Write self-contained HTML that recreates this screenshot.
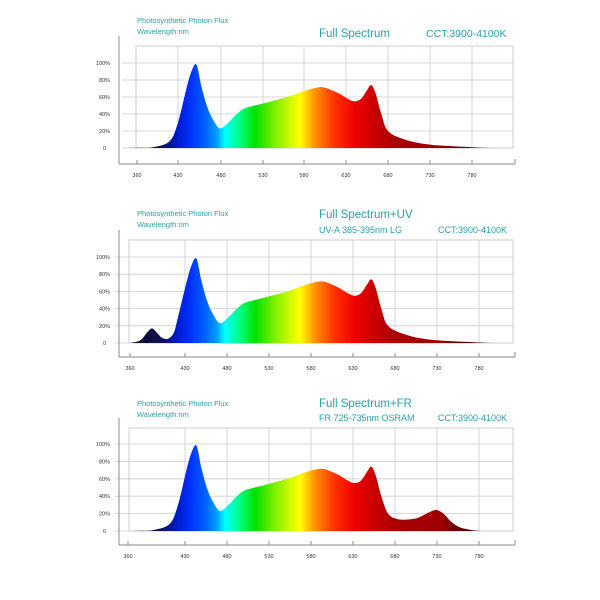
<!DOCTYPE html>
<html><head><meta charset="utf-8"><style>
html,body{margin:0;padding:0;background:#fff;width:600px;height:600px;overflow:hidden}
svg{display:block}
text{font-family:"Liberation Sans",sans-serif}
</style></head><body>
<svg id="s" width="600" height="600" xmlns="http://www.w3.org/2000/svg"></svg>
<script>
const s=document.getElementById('s');let h='';
h+='<defs><linearGradient id="g" gradientUnits="userSpaceOnUse" x1="120" x2="500" y1="0" y2="0">';
const stops=[[130,'#0a0a20'],[160,'#101050'],[175,'#0018c0'],[190,'#0030ff'],[205,'#0060ff'],[217,'#00a0ff'],[225,'#00ffff'],[240,'#00ff80'],[255,'#00e000'],[275,'#80f000'],[300,'#ffff00'],[315,'#ff9000'],[335,'#ff3000'],[355,'#f00000'],[375,'#c80000'],[395,'#a80000'],[440,'#a00000'],[470,'#400000'],[500,'#200000']];
stops.forEach(t=>h+=`<stop offset="${(t[0]-120)/380}" stop-color="${t[1]}"/>`);
h+='</linearGradient></defs>';
const base=[[400,1],[420,8],[430,30],[440,70],[446,90],[452,98],[458,72],[465,48],[472,33],[480,23],[490,30],[500,40],[510,47],[530,52],[560,60],[580,67],[595,71],[605,71],[620,65],[632,58],[640,55],[648,58],[655,68],[660,74],[665,65],[672,40],[680,20]];
const tail1=[[700,10],[730,4],[780,1],[804,0]];
const tailFR=[[690,14],[700,13],[715,15],[730,22],[738,24],[746,20],[756,10],[766,4],[780,1],[792,0]];
const c1=[[360,0],[380,0.2]].concat(base,tail1);
const c2=[[373,0],[385,3],[393,12],[399,17],[405,12],[411,6],[418,5],[425,12]].concat(base.slice(2),tail1);
const c3=[[370,0],[385,0.3]].concat(base,tailFR);
function px(w){return 178+(w-430)*0.84;}
function smooth(pts){let d='';for(let i=0;i<pts.length;i++){const p=pts[i];if(i==0){d+=`M${p[0]},${p[1]}`;continue;}const p0=pts[i-2]||pts[i-1],p1=pts[i-1],p3=pts[i+1]||p;const c1x=p1[0]+(p[0]-p0[0])/6,c1y=p1[1]+(p[1]-p0[1])/6,c2x=p[0]-(p3[0]-p1[0])/6,c2y=p[1]-(p3[1]-p1[1])/6;d+=`C${c1x.toFixed(1)},${c1y.toFixed(1)} ${c2x.toFixed(1)},${c2y.toFixed(1)} ${p[0].toFixed(1)},${p[1].toFixed(1)}`;}return d;}
function chart(o){
 const y0=o.y0,k=(o.y0-o.y100)/100;
 h+=`<rect x="${o.gl}" y="${o.gt}" width="${513-o.gl}" height="${y0-o.gt}" fill="none" stroke="#ccc" stroke-width="1"/>`;
 for(let i=0;i<=5;i++){const y=y0-i*20*k;h+=`<line x1="${o.gl-14}" x2="513" y1="${y}" y2="${y}" stroke="#ccc" stroke-width="0.8"/>`;
  h+=`<text x="${i?110:103}" y="${y+2}" font-size="5.5" fill="#333" text-anchor="${i?'end':'start'}">${i?i*20+'%':'0'}</text>`;}
 o.ticks.forEach((x,i)=>{if(i>0)h+=`<line x1="${x}" x2="${x}" y1="${o.gt}" y2="${y0}" stroke="#ccc" stroke-width="0.8"/>`;
  h+=`<line x1="${x}" x2="${x}" y1="${o.ax-4}" y2="${o.ax}" stroke="#777" stroke-width="0.8"/>`;
  h+=`<text x="${x}" y="${o.ax+13}" font-size="5.5" fill="#333" text-anchor="middle">${[360,430,480,530,580,630,680,730,780][i]}</text>`;});
 h+=`<line x1="119" x2="515" y1="${o.ax}" y2="${o.ax}" stroke="#888" stroke-width="1"/>`;
 h+=`<line x1="119" x2="119" y1="${o.gt-10}" y2="${o.ax}" stroke="#888" stroke-width="1"/>`;
 h+=`<line x1="515" x2="515" y1="${o.ax-5}" y2="${o.ax}" stroke="#888" stroke-width="1"/>`;
 const pts=o.c.map(p=>[px(p[0]),y0-p[1]*k]);
 h+=`<path d="${smooth(pts)}Z" fill="url(#g)"/>`;
 h+=`<text x="137" y="${o.ty}" font-size="7.5" fill="#2aa0a8">Photosynthetic Photon Flux</text><text x="137" y="${o.ty+11}" font-size="7.5" fill="#2aa0a8">Wavelength:nm</text>`;
 h+=o.titles;
}
chart({y0:148,y100:63,gt:46,gl:136,ax:164,ticks:[137,178,221,263,304,346,388,430,472],c:c1,ty:23,
 titles:'<text x="319" y="37" font-size="11.5" fill="#2aa0a8">Full Spectrum</text><text x="426" y="37" font-size="10.5" fill="#2aa0a8">CCT:3900-4100K</text>'});
chart({y0:343,y100:257,gt:240,gl:129,ax:357,ticks:[130,185,227,269,311,353,395,437,479],c:c2,ty:216,
 titles:'<text x="319" y="218" font-size="11.5" fill="#2aa0a8">Full Spectrum+UV</text><text x="319" y="233" font-size="9" fill="#2aa0a8">UV-A 385-395nm LG</text><text x="438" y="233" font-size="9" fill="#2aa0a8">CCT:3900-4100K</text>'});
chart({y0:531,y100:444,gt:428,gl:129,ax:545,ticks:[128,185,227,269,311,353,395,437,479],c:c3,ty:406,
 titles:'<text x="319" y="407" font-size="11.5" fill="#2aa0a8">Full Spectrum+FR</text><text x="319" y="421" font-size="9" fill="#2aa0a8">FR 725-735nm OSRAM</text><text x="438" y="421" font-size="9" fill="#2aa0a8">CCT:3900-4100K</text>'});
s.innerHTML=h;
</script>
</body></html>
